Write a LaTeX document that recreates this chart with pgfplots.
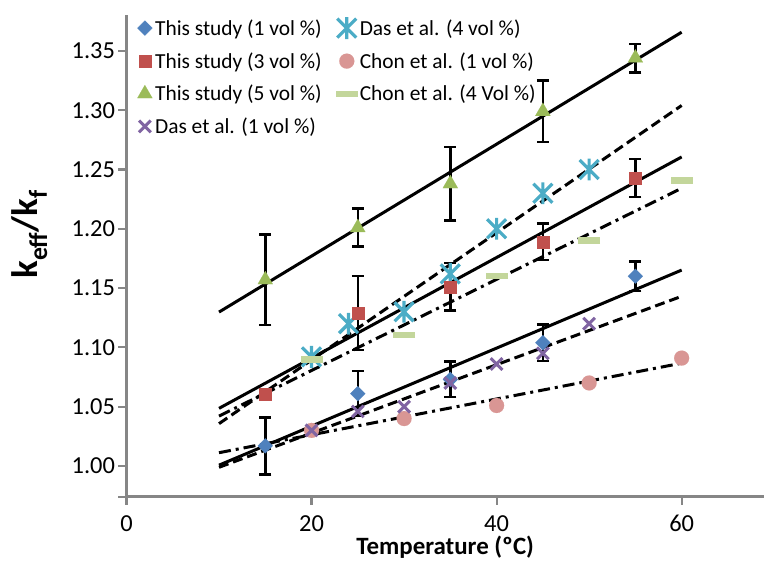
\documentclass[border=0pt]{standalone}
\usepackage{fontspec}
\setmainfont{Carlito}
\usepackage{pgfplots}
\pgfplotsset{compat=1.18}

\definecolor{c1}{HTML}{4F81BD}
\definecolor{c3}{HTML}{C0504D}
\definecolor{c5}{HTML}{9BBB59}
\definecolor{cdasone}{HTML}{8064A2}
\definecolor{cdasfour}{HTML}{4BACC6}
\definecolor{cchonone}{HTML}{D99694}
\definecolor{cchonfour}{HTML}{C3D69B}
\definecolor{axgray}{HTML}{868686}

\pgfdeclareplotmark{xstar}{%
  \pgfpathmoveto{\pgfqpoint{-\pgfplotmarksize}{-\pgfplotmarksize}}%
  \pgfpathlineto{\pgfqpoint{\pgfplotmarksize}{\pgfplotmarksize}}%
  \pgfpathmoveto{\pgfqpoint{-\pgfplotmarksize}{\pgfplotmarksize}}%
  \pgfpathlineto{\pgfqpoint{\pgfplotmarksize}{-\pgfplotmarksize}}%
  \pgfpathmoveto{\pgfqpoint{0pt}{-1.15\pgfplotmarksize}}%
  \pgfpathlineto{\pgfqpoint{0pt}{1.15\pgfplotmarksize}}%
  \pgfusepathqstroke}

\begin{document}
\begin{tikzpicture}
\begin{axis}[
  at={(0,0)}, anchor=south west,
  scale only axis, width=637.5bp, height=481.7bp,
  xmin=0, xmax=68.9, ymin=0.9741, ymax=1.3803,
  axis x line*=bottom, axis y line*=left,
  axis line style={axgray, line width=2.5bp},
  tick style={axgray, line width=2.2bp},
  tick align=outside, major tick length=8bp,
  xtick={0,20,40,60},
  ytick={1.00,1.05,1.10,1.15,1.20,1.25,1.30,1.35},
  extra y ticks={0.9741}, extra y tick labels={},
  /pgf/number format/assume math mode=true,
  yticklabel style={/pgf/number format/.cd, fixed, fixed zerofill, precision=2, /tikz/.cd,
    font=\fontsize{24.5}{28}\selectfont, text=black},
  xticklabel style={font=\fontsize{24.5}{28}\selectfont, text=black, yshift=-7bp},
  xlabel={Temperature (ºC)},
  xlabel style={font=\fontsize{25}{30}\selectfont\bfseries, at={(axis description cs:0.5,0)}, anchor=center, yshift=-51bp},
  ylabel={k\textsubscript{eff}/k\textsubscript{f}},
  ylabel style={font=\fontsize{37}{40}\selectfont\bfseries, at={(axis description cs:0,0.545)}, anchor=center, yshift=97bp},
  legend columns=2,
  legend cell align=left,
  legend image code/.code={\path (0bp,0bp) (16bp,0bp); \draw[mark repeat=2,mark phase=2,#1] plot coordinates {(0bp,0bp) (8bp,0bp) (16bp,0bp)};},
  legend style={at={(axis description cs:0,1)}, anchor=north west, xshift=7bp, yshift=0bp,
    draw=none, fill=none, font=\fontsize{21.5}{24}\selectfont, row sep=11.5bp,
    /tikz/every even column/.append style={column sep=12bp}},
  error bars/y dir=both, error bars/y explicit,
  error bars/error mark=|,
  error bars/error bar style={black, line width=2.5bp, solid},
  error bars/error mark options={black, line width=2.5bp, mark size=6bp, solid},
]
% This study (1 vol %)
\addplot[c1, only marks, mark=square*, mark size=5.3bp, mark options={rotate=45, draw=c1, fill=c1, line width=0.1bp}]
  coordinates {(15,1.017) +- (0,0.024) (25,1.061) +- (0,0.019) (35,1.073) +- (0,0.015) (45,1.104) +- (0,0.0155) (55,1.160) +- (0,0.0125)};
\addlegendentry{This study (1 vol \%)}
% Das et al. (4 vol %)
\addplot[cdasfour, only marks, mark=xstar, mark size=9.5bp, mark options={draw=cdasfour, line width=3.2bp}, error bars/y dir=none]
  coordinates {(20,1.092) (24,1.120) (30,1.130) (35,1.162) (40,1.200) (45,1.230) (50,1.250)};
\addlegendentry{Das et al. (4 vol \%)}
% This study (3 vol %)
\addplot[c3, only marks, mark=square*, mark size=6bp, mark options={draw=c3, fill=c3, line width=0.1bp}]
  coordinates {(15,1.061) +- (0,0) (25,1.129) +- (0,0.031) (35,1.151) +- (0,0.020) (45,1.189) +- (0,0.0155) (55,1.243) +- (0,0.016)};
\addlegendentry{This study (3 vol \%)}
% Chon et al. (1 vol %)
\addplot[cchonone, only marks, mark=*, mark size=7.5bp, mark options={draw=cchonone, fill=cchonone, line width=0.1bp}, error bars/y dir=none]
  coordinates {(20,1.030) (30,1.040) (40,1.051) (50,1.070) (60,1.091)};
\addlegendentry{Chon et al. (1 vol \%)}
% This study (5 vol %)
\addplot[c5, only marks, mark=triangle*, mark size=8.7bp, mark options={draw=c5, fill=c5, line width=0.1bp}]
  coordinates {(15,1.157) +- (0,0.038) (25,1.201) +- (0,0.016) (35,1.238) +- (0,0.031) (45,1.299) +- (0,0.026) (55,1.344) +- (0,0.012)};
\addlegendentry{This study (5 vol \%)}
% Chon et al. (4 Vol %)
\addplot[cchonfour, only marks, mark=-, mark size=11bp, mark options={draw=cchonfour, line width=6.5bp}, error bars/y dir=none]
  coordinates {(20,1.090) (30,1.1105) (40,1.160) (50,1.190) (60,1.2406)};
\addlegendentry{Chon et al. (4 Vol \%)}
% Das et al. (1 vol %)
\addplot[cdasone, only marks, mark=x, mark size=8.3bp, mark options={draw=cdasone, line width=3bp}, error bars/y dir=none]
  coordinates {(20,1.030) (25,1.046) (30,1.050) (35,1.070) (40,1.086) (45,1.095) (50,1.120)};
\addlegendentry{Das et al. (1 vol \%)}
% trend lines
\addplot[forget plot, black, line width=3bp, error bars/y dir=none] coordinates {(10,1.0007) (60,1.1652)};
\addplot[forget plot, black, line width=3bp, error bars/y dir=none] coordinates {(10,1.0486) (60,1.2606)};
\addplot[forget plot, black, line width=3bp, error bars/y dir=none] coordinates {(10,1.1298) (60,1.3658)};
\addplot[forget plot, black, line width=3bp, dash pattern=on 10bp off 5bp, error bars/y dir=none] coordinates {(10,0.9989) (60,1.1431)};
\addplot[forget plot, black, line width=3bp, dash pattern=on 10bp off 5bp, error bars/y dir=none] coordinates {(10,1.0357) (60,1.3040)};
\addplot[forget plot, black, line width=3bp, dash pattern=on 12bp off 5bp on 3bp off 5bp, error bars/y dir=none] coordinates {(10,1.0112) (60,1.0867)};
\addplot[forget plot, black, line width=3bp, dash pattern=on 12bp off 5bp on 3bp off 5bp, error bars/y dir=none] coordinates {(10,1.0421) (60,1.2342)};
\end{axis}
\pgfresetboundingbox
\path[use as bounding box] (-126.5bp,-65.3bp) rectangle (637.5bp,496.7bp);
\end{tikzpicture}
\end{document}
